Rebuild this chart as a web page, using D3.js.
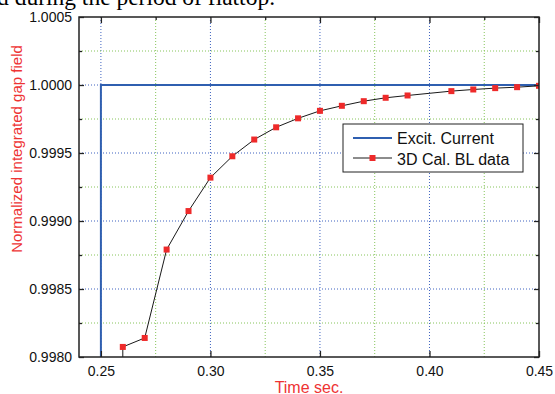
<!DOCTYPE html>
<html>
<head>
<meta charset="utf-8">
<script src="https://cdnjs.cloudflare.com/ajax/libs/d3/7.8.5/d3.min.js"></script>
<style>
  body { margin: 0; background: #fff; }
  svg { display: block; }
  text { font-family: "Liberation Sans", Arial, sans-serif; }
</style>
</head>
<body>
<div id="chart"></div>
<script>
// Excitation current step (normalized)
const excitTime = [0.25, 0.25, 0.45];
const excitValue = [0.9970, 1.0000, 1.0000];

// 3D calculated BL data (first point lies below the visible range)
const blTime = [0.26, 0.26, 0.27, 0.28, 0.29, 0.30, 0.31, 0.32, 0.33, 0.34, 0.35,
                0.36, 0.37, 0.38, 0.39, 0.41, 0.42, 0.43, 0.44, 0.45];
const blValue = [0.99700, 0.998074, 0.998140, 0.998790, 0.999073, 0.999319, 0.999476,
                 0.999599, 0.999689, 0.999755, 0.999810, 0.999847, 0.999881, 0.999906,
                 0.999923, 0.999955, 0.999967, 0.999977, 0.999984, 0.999994];

// Tick values
const xMajor = [0.25, 0.30, 0.35, 0.40, 0.45];
const xMinor = [0.275, 0.325, 0.375, 0.425];
const yMajor = [0.9980, 0.9985, 0.9990, 0.9995, 1.0000, 1.0005];
const yMinor = [0.99825, 0.99875, 0.99925, 0.99975, 1.00025];

const legendLabels = ["Excit. Current", "3D Cal. BL data"];

const width = 555, height = 394;
const plot = {left: 79, right: 539, top: 17, bottom: 357};

const svg = d3.select("#chart").append("svg")
    .attr("width", width)
    .attr("height", height);

// Caption fragment cut off at the top of the picture
svg.append("text")
    .attr("x", -3)
    .attr("y", 5)
    .style("font-family", "'Liberation Serif', 'Times New Roman', serif")
    .style("font-size", "23.5px")
    .attr("fill", "#000")
    .text("d during the period of flattop.");

const x = d3.scaleLinear().domain([0.24, 0.45]).range([plot.left, plot.right]);
const y = d3.scaleLinear().domain([0.998, 1.0005]).range([plot.bottom, plot.top]);

// Grid lines
const grid = svg.append("g");
xMajor.filter(v => v < 0.45).forEach(v => {
  grid.append("line")
      .attr("x1", x(v)).attr("x2", x(v))
      .attr("y1", plot.top).attr("y2", plot.bottom)
      .attr("stroke", "#3f63c0").attr("stroke-width", 1)
      .attr("stroke-dasharray", "1,2");
});
xMinor.forEach(v => {
  grid.append("line")
      .attr("x1", x(v)).attr("x2", x(v))
      .attr("y1", plot.top).attr("y2", plot.bottom)
      .attr("stroke", "#86c45a").attr("stroke-width", 1)
      .attr("stroke-dasharray", "1,2");
});
yMajor.filter(v => v > 0.998 && v < 1.0005).forEach(v => {
  grid.append("line")
      .attr("x1", plot.left).attr("x2", plot.right)
      .attr("y1", y(v)).attr("y2", y(v))
      .attr("stroke", "#3f63c0").attr("stroke-width", 1)
      .attr("stroke-dasharray", "1,2");
});
yMinor.forEach(v => {
  grid.append("line")
      .attr("x1", plot.left).attr("x2", plot.right)
      .attr("y1", y(v)).attr("y2", y(v))
      .attr("stroke", "#86c45a").attr("stroke-width", 1)
      .attr("stroke-dasharray", "1,2");
});

// Clip for data
svg.append("clipPath").attr("id", "clip")
    .append("rect")
    .attr("x", plot.left).attr("y", plot.top)
    .attr("width", plot.right - plot.left)
    .attr("height", plot.bottom - plot.top);

const data = svg.append("g").attr("clip-path", "url(#clip)");

const excit = excitTime.map((t, i) => ({t, v: excitValue[i]}));
const bl = blTime.map((t, i) => ({t, v: blValue[i]}));

const line = d3.line().x(d => x(d.t)).y(d => y(d.v));

data.append("path")
    .datum(excit)
    .attr("fill", "none")
    .attr("stroke", "#2f5fb0")
    .attr("stroke-width", 2)
    .attr("d", line);

data.append("path")
    .datum(bl)
    .attr("fill", "none")
    .attr("stroke", "#1a1a1a")
    .attr("stroke-width", 1)
    .attr("d", line);

data.selectAll(".marker")
    .data(bl)
    .enter()
    .append("rect")
    .attr("class", "marker")
    .attr("x", d => x(d.t) - 3)
    .attr("y", d => y(d.v) - 3)
    .attr("width", 6)
    .attr("height", 6)
    .attr("fill", "#ee2a2a");

// Frame
svg.append("rect")
    .attr("x", plot.left).attr("y", plot.top)
    .attr("width", plot.right - plot.left)
    .attr("height", plot.bottom - plot.top)
    .attr("fill", "none")
    .attr("stroke", "#222")
    .attr("stroke-width", 1.5);

// Axes with inward ticks
const bottomAxis = svg.append("g")
    .attr("transform", `translate(0, ${plot.bottom})`)
    .call(d3.axisBottom(x).tickValues(xMajor).tickFormat(d3.format(".2f"))
        .tickSizeInner(-6).tickSizeOuter(0).tickPadding(9));
bottomAxis.select(".domain").remove();

svg.append("g")
    .attr("transform", `translate(0, ${plot.top})`)
    .call(d3.axisTop(x).tickValues(xMajor).tickFormat("").tickSizeInner(-6).tickSizeOuter(0))
    .call(g => g.select(".domain").remove());

svg.append("g")
    .attr("transform", `translate(0, ${plot.top})`)
    .call(d3.axisTop(x).tickValues(xMinor).tickFormat("").tickSizeInner(-3).tickSizeOuter(0))
    .call(g => g.select(".domain").remove());

const leftAxis = svg.append("g")
    .attr("transform", `translate(${plot.left}, 0)`)
    .call(d3.axisLeft(y).tickValues(yMajor).tickFormat(d3.format(".4f"))
        .tickSizeInner(-5).tickSizeOuter(0).tickPadding(7));
leftAxis.select(".domain").remove();

svg.append("g")
    .attr("transform", `translate(${plot.left}, 0)`)
    .call(d3.axisLeft(y).tickValues(yMinor).tickFormat("").tickSizeInner(-3).tickSizeOuter(0))
    .call(g => g.select(".domain").remove());

svg.append("g")
    .attr("transform", `translate(${plot.right}, 0)`)
    .call(d3.axisRight(y).tickValues(yMajor).tickFormat("").tickSizeInner(-5).tickSizeOuter(0))
    .call(g => g.select(".domain").remove());

svg.append("g")
    .attr("transform", `translate(${plot.right}, 0)`)
    .call(d3.axisRight(y).tickValues(yMinor).tickFormat("").tickSizeInner(-3).tickSizeOuter(0))
    .call(g => g.select(".domain").remove());

svg.selectAll(".tick line").attr("stroke", "#222").attr("stroke-width", 1.3);
svg.selectAll(".tick text")
    .style("font-size", "14px")
    .style("font-family", "'Liberation Sans', Arial, sans-serif")
    .attr("fill", "#111");

// Axis labels
svg.append("text")
    .attr("x", (plot.left + plot.right) / 2)
    .attr("y", 393)
    .attr("text-anchor", "middle")
    .attr("fill", "#ee3333")
    .style("font-size", "16px")
    .text("Time sec.");

svg.append("text")
    .attr("transform", "rotate(-90)")
    .attr("x", -149)
    .attr("y", 22)
    .attr("text-anchor", "middle")
    .attr("fill", "#ee3333")
    .style("font-size", "15px")
    .text("Normalized integrated gap field");

// Legend
const legend = svg.append("g").attr("transform", "translate(343, 124)");
legend.append("rect")
    .attr("x", 0).attr("y", 0)
    .attr("width", 180).attr("height", 48)
    .attr("fill", "#fff")
    .attr("stroke", "#222")
    .attr("stroke-width", 1);

legend.append("line")
    .attr("x1", 10).attr("x2", 49)
    .attr("y1", 14).attr("y2", 14)
    .attr("stroke", "#2f5fb0").attr("stroke-width", 2);

legend.append("line")
    .attr("x1", 10).attr("x2", 49)
    .attr("y1", 34).attr("y2", 34)
    .attr("stroke", "#1a1a1a").attr("stroke-width", 1);

legend.append("rect")
    .attr("x", 26.5).attr("y", 31)
    .attr("width", 6).attr("height", 6)
    .attr("fill", "#ee2a2a");

legendLabels.forEach((label, i) => {
  legend.append("text")
      .attr("x", 54)
      .attr("y", 14 + i * 20.5 + 6)
      .attr("fill", "#111")
      .style("font-size", "16px")
      .text(label);
});
</script>
</body>
</html>
